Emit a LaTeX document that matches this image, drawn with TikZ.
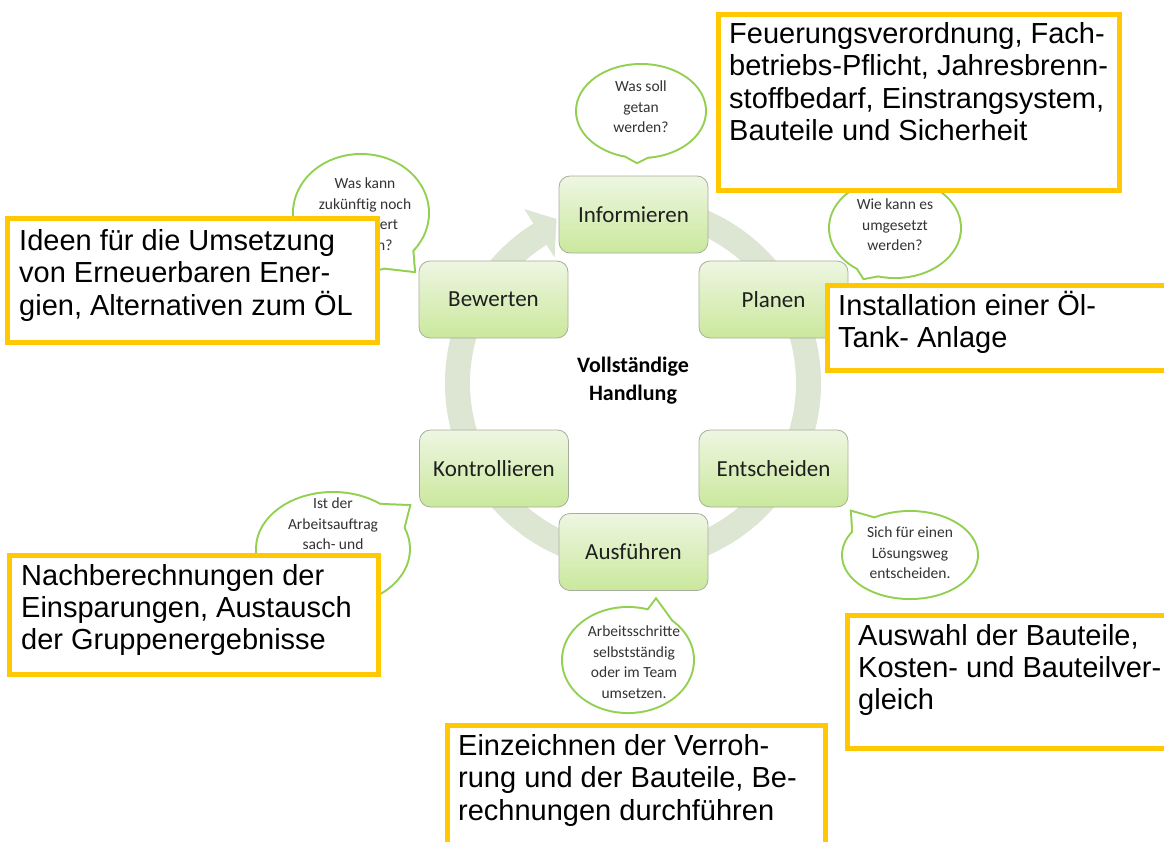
\documentclass[tikz,border=0pt]{standalone}
\usepackage{fontspec}
\setmainfont{Liberation Sans}
\newfontfamily\carlito{Carlito}
\usetikzlibrary{calc}
\definecolor{ybord}{RGB}{255,200,0}
\definecolor{bubg}{RGB}{146,208,80}
\definecolor{ringc}{RGB}{221,229,211}
\definecolor{gtop}{RGB}{238,246,226}
\definecolor{gbot}{RGB}{202,232,156}
\definecolor{gbord}{RGB}{165,175,155}
\newcommand\speech[7]{%
  \draw[bubg, line width=4] (#1,#2) ellipse[x radius=#3, y radius=#4];
  \draw[bubg, line width=4, miter limit=20] ($(#1,#2)+(#5:#3 and #4)$) -- (#7) -- ($(#1,#2)+(#6:#3 and #4)$);
  \fill[white] (#1,#2) ellipse[x radius=#3, y radius=#4];
  \fill[white] ($(#1,#2)+(#5:#3 and #4)$) -- (#7) -- ($(#1,#2)+(#6:#3 and #4)$) -- cycle;
}
\begin{document}
\begin{tikzpicture}[x=1pt,y=1pt,
  stepbox/.style={draw=gbord, line width=0.8, rounded corners=11, top color=gtop, bottom color=gbot,
    minimum width=149, minimum height=77, inner sep=0, font=\carlito\fontsize{23}{27}\selectfont, text=black!88},
  ybox/.style={draw=ybord, line width=5, fill=white},
  ytext/.style={anchor=base west, inner sep=0, font=\fontsize{29}{32.5}\selectfont},
  btext/.style={align=center, inner sep=0, font=\carlito\fontsize{15.5}{20.5}\selectfont, text=black!80},
  ctext/.style={align=center, inner sep=0, font=\carlito\bfseries\fontsize{22}{28}\selectfont},
]
\useasboundingbox (0,0) rectangle (1164,-841);
\clip (0,0) rectangle (1164,-841);

% ring arrow
\coordinate (c) at (633,-383);
\fill[ringc] ($(c)+(80:188)$) arc[start angle=80,end angle=-238,radius=188]
  -- ($(c)+(-238:205)$) -- ($(c)+(-245:181)$) -- ($(c)+(-238:148)$) -- ($(c)+(-238:163)$)
  arc[start angle=-238,end angle=80,radius=163] -- cycle;

% steps
\node[stepbox] (inf) at (633.5,-214.5) {Informieren};
\node[stepbox] (pla) at (773.5,-299.5) {Planen};
\node[stepbox] (ent) at (773.5,-468.5) {Entscheiden};
\node[stepbox] (aus) at (633.5,-552) {Ausführen};
\node[stepbox] (kon) at (494,-468.5) {Kontrollieren};
\node[stepbox] (bew) at (493.5,-299.5) {Bewerten};
\node[ctext] (mid) at (633,-381) {Vollständige\\Handlung};

% speech bubbles
\coordinate (t1) at (637,-162);
\speech{641}{-111}{64}{46}{-104}{-84}{t1}
\node[btext] (q1) at (641,-107) {Was soll\\getan\\werden?};

\coordinate (t2) at (414,-271);
\speech{361}{-213}{67}{58}{-70}{-40}{t2}
\node[btext] (q2) at (365,-214) {Was kann\\zukünftig noch\\verbessert\\werden?};

\coordinate (t3) at (864,-278);
\speech{895}{-228}{65}{49}{-125}{-105}{t3}
\node[btext] (q3) at (895,-225) {Wie kann es\\umgesetzt\\werden?};

\coordinate (t4) at (409,-506);
\speech{333}{-549}{76}{56}{52}{22}{t4}
\node[btext] (q4) at (333,-524) {Ist der\\Arbeitsauftrag\\sach- und};

\coordinate (t5) at (852,-512);
\speech{910}{-555}{67}{43}{148}{122}{t5}
\node[btext] (q5) at (910,-553) {Sich für einen\\Lösungsweg\\entscheiden.};

\coordinate (t6) at (656,-600);
\speech{628}{-660}{65}{52}{72}{48}{t6}
\node[btext] (q6) at (634,-662) {Arbeitsschritte\\selbstständig\\oder im Team\\umsetzen.};

% yellow boxes
\path[ybox] (718.5,-14.5) rectangle (1119.5,-190.5);
\node[ytext] (ta) at (729,-43) {\vtop{\baselineskip=32.5pt\hbox{Feuerungsverordnung, Fach-}\hbox{betriebs-Pflicht, Jahresbrenn-}\hbox{stoffbedarf, Einstrangsystem,}\hbox{Bauteile und Sicherheit}}};

\path[ybox] (7.5,-218.5) rectangle (377.5,-342.5);
\node[ytext] (tb) at (19,-250) {\vtop{\baselineskip=32.5pt\hbox{Ideen für die Umsetzung}\hbox{von Erneuerbaren Ener-}\hbox{gien, Alternativen zum ÖL}}};

\path[ybox] (827.5,-285.5) rectangle (1180,-370.5);
\node[ytext] (tc) at (838,-315) {\vtop{\baselineskip=32pt\hbox{Installation einer Öl-}\hbox{Tank- Anlage}}};

\path[ybox] (9.5,-555.5) rectangle (378.5,-674.5);
\node[ytext] (td) at (21,-585) {\vtop{\baselineskip=32pt\hbox{Nachberechnungen der}\hbox{Einsparungen, Austausch}\hbox{der Gruppenergebnisse}}};

\path[ybox] (847.5,-615.5) rectangle (1180,-748.5);
\node[ytext] (te) at (858,-645) {\vtop{\baselineskip=32pt\hbox{Auswahl der Bauteile,}\hbox{Kosten- und Bauteilver-}\hbox{gleich}}};

\path[ybox] (447.5,-725.5) rectangle (825.5,-860);
\node[ytext] (tf) at (458,-755) {\vtop{\baselineskip=32.5pt\hbox{Einzeichnen der Verroh-}\hbox{rung und der Bauteile, Be-}\hbox{rechnungen durchführen}}};
\end{tikzpicture}
\end{document}
